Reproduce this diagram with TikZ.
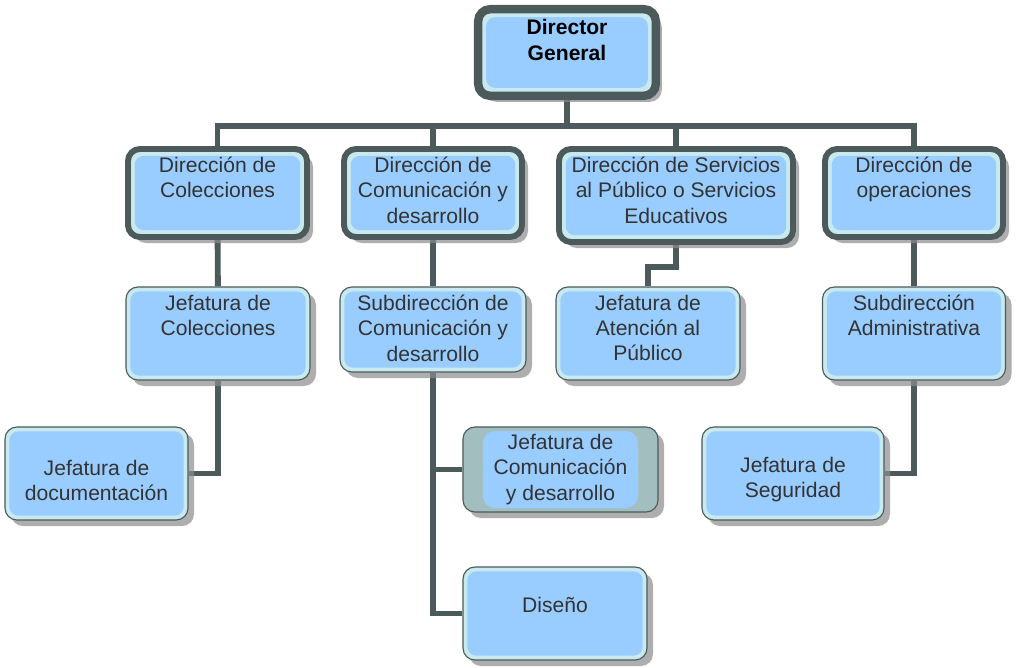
\documentclass[tikz,border=0pt]{standalone}
\usepackage{fontspec}
\setmainfont{Liberation Sans}
\usetikzlibrary{calc,shadows,backgrounds}

\definecolor{boxblue}{RGB}{153,204,255}
\definecolor{boxband}{RGB}{200,234,238}
\definecolor{edgegray}{RGB}{76,90,91}
\definecolor{tealgray}{RGB}{163,190,190}
\definecolor{txtgray}{RGB}{51,51,51}

\newcommand{\toptxt}[4][0.2cm]{\parbox[c][#2][t]{#3}{\centering\vspace*{#1}#4}}

\tikzset{
	conn/.style={draw=edgegray, line width=4.2pt},
	boxshadow/.style={drop shadow={shadow xshift=0.15cm, shadow yshift=-0.15cm, fill=black!45, opacity=0.7}},
	bluefill/.style={path picture={\fill[boxblue, rounded corners=0.22cm] ($(path picture bounding box.south west)+(#1,#1)$) rectangle ($(path picture bounding box.north east)-(#1,#1)$);}},
	org/.style={draw=edgegray, fill=boxband, rounded corners=0.3cm, inner sep=0pt, text=txtgray, font=\fontsize{15}{18}\selectfont, align=center, boxshadow},
	topbox/.style={org, line width=6pt, bluefill=0.2cm, text=black, font=\bfseries\fontsize{15}{18}\selectfont},
	dirbox/.style={org, line width=4.2pt, bluefill=0.17cm},
	unitbox/.style={org, line width=0.8pt, bluefill=0.11cm},
}

\begin{document}
\begin{tikzpicture}[x=0.025cm, y=-0.025cm]
	\useasboundingbox (0,0) rectangle (1019,667);
	%
	\node[topbox, minimum width=4.44cm, minimum height=2.165cm] (dg) at (567,52.5)
		{\toptxt[0.26cm]{2.165cm}{4.3cm}{Director\\General}};
	%
	\node[dirbox, minimum width=4.475cm, minimum height=2.2cm] (dcol) at (217.5,193)
		{\toptxt{2.2cm}{4.3cm}{Dirección de\\Colecciones}};
	\node[dirbox, minimum width=4.45cm, minimum height=2.2cm] (dcom) at (433,193)
		{\toptxt{2.2cm}{4.3cm}{Dirección de\\Comunicación y\\desarrollo}};
	\node[dirbox, minimum width=5.85cm, minimum height=2.325cm] (dser) at (676,195.5)
		{\toptxt{2.325cm}{5.7cm}{Dirección de Servicios\\al Público o Servicios\\Educativos}};
	\node[dirbox, minimum width=4.45cm, minimum height=2.2cm] (dope) at (914,193)
		{\toptxt{2.2cm}{4.3cm}{Dirección de\\operaciones}};
	%
	\node[unitbox, minimum width=4.6cm, minimum height=2.325cm] (jcol) at (218,333.5)
		{\toptxt{2.325cm}{4.4cm}{Jefatura de\\Colecciones}};
	\node[unitbox, minimum width=4.65cm, minimum height=2.125cm] (scom) at (433,329.5)
		{\toptxt{2.125cm}{4.4cm}{Subdirección de\\Comunicación y\\desarrollo}};
	\node[unitbox, minimum width=4.6cm, minimum height=2.325cm] (jate) at (648,333.5)
		{\toptxt{2.325cm}{4.4cm}{Jefatura de\\Atención al\\Público}};
	\node[unitbox, minimum width=4.575cm, minimum height=2.325cm] (sadm) at (914,333.5)
		{\toptxt{2.325cm}{4.4cm}{Subdirección\\Administrativa}};
	%
	\node[unitbox, minimum width=4.575cm, minimum height=2.325cm] (jdoc) at (96.5,473.5)
		{\toptxt[0.82cm]{2.325cm}{4.4cm}{Jefatura de\\documentación}};
	\node[unitbox, fill=tealgray, minimum width=4.875cm, minimum height=2.125cm,
		path picture={\fill[boxblue] ($(path picture bounding box.south west)+(0.5cm,0.1cm)$) rectangle ($(path picture bounding box.north east)-(0.5cm,0.1cm)$);}]
		(jcd) at (560.5,469.5) {Jefatura de\\Comunicación\\y desarrollo};
	\node[unitbox, minimum width=4.6cm, minimum height=2.325cm] (dis) at (555,613.5)
		{\toptxt[0.75cm]{2.325cm}{4.4cm}{Diseño}};
	\node[unitbox, minimum width=4.55cm, minimum height=2.325cm] (jseg) at (793,473.5)
		{\toptxt[0.75cm]{2.325cm}{4.4cm}{Jefatura de\\Seguridad}};
	%
	\begin{scope}[on background layer]
		\foreach \d in {dcol,dcom,dser,dope}
			\draw[conn] (dg.south) -- ++(0,26) -| (\d.north);
		\draw[conn] (dcol) -- (jcol);
		\draw[conn] (dcom) -- (scom);
		\draw[conn] (dser.south) -- ++(0,22) -| (jate.north);
		\draw[conn] (dope) -- (sadm);
		\draw[conn] (jcol.south) |- (jdoc.east);
		\draw[conn] (scom.south) |- (jcd.west);
		\draw[conn] (scom.south) |- (dis.west);
		\draw[conn] (sadm.south) |- (jseg.east);
	\end{scope}
\end{tikzpicture}
\end{document}
